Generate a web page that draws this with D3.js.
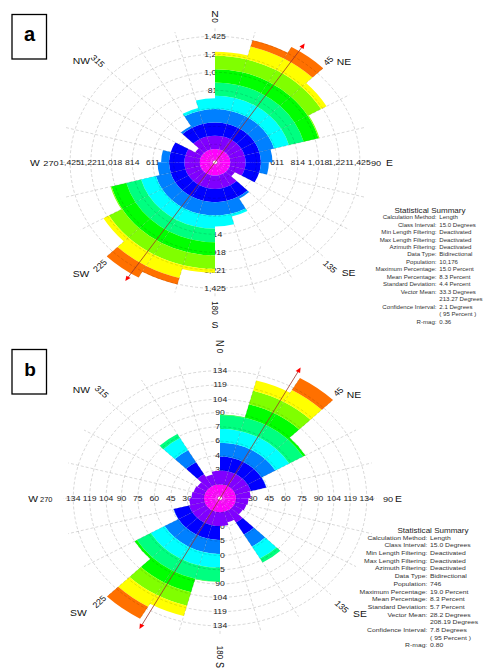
<!DOCTYPE html>
<html>
<head>
<meta charset="utf-8">
<script src="https://cdn.jsdelivr.net/npm/d3@7"></script>
<style>
  body { margin: 0; background: #fff; }
  svg { display: block; font-family: "Liberation Sans", Arial, sans-serif; }
</style>
</head>
<body>
<svg id="chart" width="484" height="670"></svg>
<script>
// azimuth of the start of each 15 degree class (bidirectional: each class is mirrored at +180)
const bins = [0, 15, 30, 45, 60, 75, 90, 105, 120, 135, 150, 165];

// panel a: length weighted counts per class
const countsA = [1250, 1430, 1505, 1267, 1063, 565, 530, 450, 225, 475, 635, 725];
const ticksA = [204, 407, 611, 814, 1018, 1221, 1425];
const vectorA = 33.3;

// panel b
const countsB = [88, 128, 146, 90, 44, 28, 26, 25, 24, 78, 26, 29];
const ticksB = [15, 30, 45, 60, 75, 90, 104, 119, 134];
const vectorB = 28.2;

// colour bands, inner to outer (each band = 1/10 of the longest petal)
const bandColors = ['#ff00ff', '#8000ff', '#0000ff', '#0080ff', '#00ffff',
                    '#00ff80', '#00ff00', '#80ff00', '#ffff00', '#ff7000'];

const summaryLabels = ['Calculation Method:', 'Class Interval:', 'Min Length Filtering:',
  'Max Length Filtering:', 'Azimuth Filtering:', 'Data Type:', 'Population:',
  'Maximum Percentage:', 'Mean Percentage:', 'Standard Deviation:', 'Vector Mean:', '',
  'Confidence Interval:', '', 'R-mag:'];
const summaryA = ['Length', '15.0 Degrees', 'Deactivated', 'Deactivated', 'Deactivated',
  'Bidirectional', '10,176', '15.0 Percent', '8.3 Percent', '4.4 Percent', '33.3 Degrees',
  '213.27 Degrees', '2.1 Degrees', '( 95 Percent )', '0.36'];
const summaryB = ['Length', '15.0 Degrees', 'Deactivated', 'Deactivated', 'Deactivated',
  'Bidirectional', '746', '19.0 Percent', '8.3 Percent', '5.7 Percent', '28.2 Degrees',
  '208.19 Degrees', '7.8 Degrees', '( 95 Percent )', '0.80'];

const svg = d3.select('#chart');
const SX = 1.15;   // the figure is stretched horizontally
const rad = Math.PI / 180;

// text helper, positions in page pixels, stretched like the rest of the figure
function txt(x, y, str, o = {}) {
  return svg.append('text')
    .attr('transform', `translate(${x},${y}) scale(${SX},1) rotate(${o.rot || 0})`)
    .attr('text-anchor', o.anchor || 'start')
    .attr('dominant-baseline', o.central ? 'central' : 'auto')
    .attr('font-size', o.size || 9)
    .attr('font-weight', o.bold ? 'bold' : 'normal')
    .attr('fill', o.fill || '#111')
    .text(str);
}

function drawRose(p) {
  const g = svg.append('g').attr('transform', `translate(${p.cx},${p.cy}) scale(${SX},1)`);
  const top = p.ticks[p.ticks.length - 1];
  const r = d3.scaleLinear().domain([0, top]).range([0, p.rTop]);
  const outer = p.rTop * 1.07;
  const maxV = d3.max(p.counts);
  const band = maxV / 10;

  // grid underneath
  const grid = (sel, opacity) => {
    sel.attr('fill', 'none').attr('stroke', '#000').attr('stroke-opacity', opacity)
      .attr('stroke-dasharray', '3,2');
    p.ticks.forEach(t => sel.append('circle').attr('r', r(t))
      .attr('vector-effect', 'non-scaling-stroke').attr('stroke-width', 0.7));
    d3.range(0, 360, 15).forEach(a => {
      const r0 = a % 90 === 0 ? p.rTop : 0;
      sel.append('line')
        .attr('x1', r0 * Math.sin(a * rad)).attr('y1', -r0 * Math.cos(a * rad))
        .attr('x2', outer * Math.sin(a * rad)).attr('y2', -outer * Math.cos(a * rad))
        .attr('vector-effect', 'non-scaling-stroke').attr('stroke-width', 0.7);
    });
  };
  grid(g.append('g'), 0.22);

  // ring labels on the four axes
  const lab = g.append('g').attr('font-size', 7.5).attr('fill', '#222')
    .attr('text-anchor', 'middle').attr('dominant-baseline', 'central');
  const fmt = d3.format(',');
  p.ticks.forEach(t => {
    [[0, -r(t)], [0, r(t)], [r(t), 0], [-r(t), 0]].forEach(([x, y]) => {
      lab.append('text').attr('x', x).attr('y', y).text(fmt(t));
    });
  });

  // petals, coloured in concentric bands
  const arc = d3.arc();
  const petals = [];
  p.counts.forEach((v, i) => {
    [0, 180].forEach(off => {
      const a0 = (bins[i] + off) * rad, a1 = (bins[i] + off + 15) * rad;
      petals.push({a0, a1, v});
      for (let k = 0; k * band < v && k < bandColors.length; k++) {
        g.append('path')
          .attr('d', arc({innerRadius: r(k * band), outerRadius: r(Math.min((k + 1) * band, v)),
                          startAngle: a0, endAngle: a1}))
          .attr('fill', bandColors[k]);
      }
    });
  });

  // faint grid seen through the petals
  const clip = svg.append('clipPath').attr('id', 'clip' + p.id);
  petals.forEach(d => clip.append('path')
    .attr('d', arc({innerRadius: 0, outerRadius: r(d.v), startAngle: d.a0, endAngle: d.a1})));
  grid(g.append('g').attr('clip-path', `url(#clip${p.id})`), 0.18);

  g.append('circle').attr('r', 1.8).attr('fill', '#fff');

  // vector mean line with arrow heads
  const L = r(maxV * 1.045);
  const vg = g.append('g').attr('transform', `rotate(${p.vector})`);
  vg.append('line').attr('y1', -L).attr('y2', L)
    .attr('stroke', '#9a3327').attr('stroke-width', 0.8).attr('vector-effect', 'non-scaling-stroke');
  [-1, 1].forEach(s => vg.append('path')
    .attr('d', `M0,${s * (L + 3)}L-2.2,${s * (L - 2)}L2.2,${s * (L - 2)}Z`)
    .attr('fill', '#ff0000'));
}

drawRose({id: 'A', cx: 215, cy: 162.3, rTop: 126, counts: countsA, ticks: ticksA, vector: vectorA});
drawRose({id: 'B', cx: 220, cy: 498.3, rTop: 127.6, counts: countsB, ticks: ticksB, vector: vectorB});

// direction labels, panel a
txt(215, 16.5, 'N', {anchor: 'middle'});
txt(215, 20.5, '0', {anchor: 'middle', central: true, rot: -90, size: 8});
txt(328.3, 60.8, '45', {anchor: 'middle', central: true, rot: -45, size: 8});
txt(336.7, 65, 'NE');
txt(330, 266.7, '135', {anchor: 'middle', central: true, rot: 45, size: 8});
txt(341.7, 275.5, 'SE');
txt(100, 265.7, '225', {anchor: 'middle', central: true, rot: -45, size: 8});
txt(89.3, 277.3, 'SW', {anchor: 'end'});
txt(97.7, 61, '315', {anchor: 'middle', central: true, rot: 45, size: 8});
txt(90, 64, 'NW', {anchor: 'end'});
txt(30, 165.7, 'W');
txt(43.3, 165.7, '270', {size: 8});
txt(371, 165.7, '90', {size: 8});
txt(386, 165.7, 'E');
txt(215, 308, '180', {anchor: 'middle', central: true, rot: 90, size: 8});
txt(215, 328, 'S', {anchor: 'middle'});

// direction labels, panel b
txt(220, 343.3, 'N', {anchor: 'middle', central: true, rot: -90});
txt(220, 351, '0', {anchor: 'middle', central: true, rot: -90, size: 8});
txt(338.3, 391.7, '45', {anchor: 'middle', central: true, rot: -45, size: 8});
txt(346.7, 398.3, 'NE');
txt(341.7, 606.7, '135', {anchor: 'middle', central: true, rot: 45, size: 8});
txt(353, 616.7, 'SE');
txt(99.3, 601.7, '225', {anchor: 'middle', central: true, rot: -45, size: 8});
txt(86.7, 616, 'SW', {anchor: 'end'});
txt(101.7, 391.7, '315', {anchor: 'middle', central: true, rot: 45, size: 8});
txt(90, 393.3, 'NW', {anchor: 'end'});
txt(28.3, 501.7, 'W');
txt(40, 501.7, '270', {size: 6.5});
txt(383, 501.7, '90', {size: 8});
txt(395, 501.7, 'E');
txt(220, 652.5, '180', {anchor: 'middle', central: true, rot: 90, size: 8});
txt(220, 665, 'S', {anchor: 'middle', central: true, rot: 90});

// panel letters
svg.append('rect').attr('x', 12).attr('y', 14.5).attr('width', 34.5).attr('height', 44.5)
  .attr('fill', 'none').attr('stroke', '#000').attr('stroke-width', 1.3);
svg.append('text').attr('x', 29.5).attr('y', 41).attr('text-anchor', 'middle')
  .attr('font-size', 20).attr('font-weight', 'bold').text('a');
svg.append('rect').attr('x', 12).attr('y', 349.5).attr('width', 34.5).attr('height', 44.5)
  .attr('fill', 'none').attr('stroke', '#000').attr('stroke-width', 1.3);
svg.append('text').attr('x', 30).attr('y', 376).attr('text-anchor', 'middle')
  .attr('font-size', 19).attr('font-weight', 'bold').text('b');

// statistical summaries
function summary(titleX, titleY, colX, valX, y0, step, values, size) {
  txt(titleX, titleY, 'Statistical Summary', {anchor: 'middle', size: 7, fill: '#222'});
  summaryLabels.forEach((l, i) => {
    if (l) txt(colX, y0 + i * step, l, {anchor: 'end', size: size, fill: '#333'});
    txt(valX, y0 + i * step, values[i], {size: size, fill: '#333'});
  });
}
summary(430, 212.5, 436.5, 439.3, 219.2, 7.45, summaryA, 5.3);
summary(433, 532.5, 427.3, 430, 539.6, 7.7, summaryB, 5.9);
</script>
</body>
</html>
